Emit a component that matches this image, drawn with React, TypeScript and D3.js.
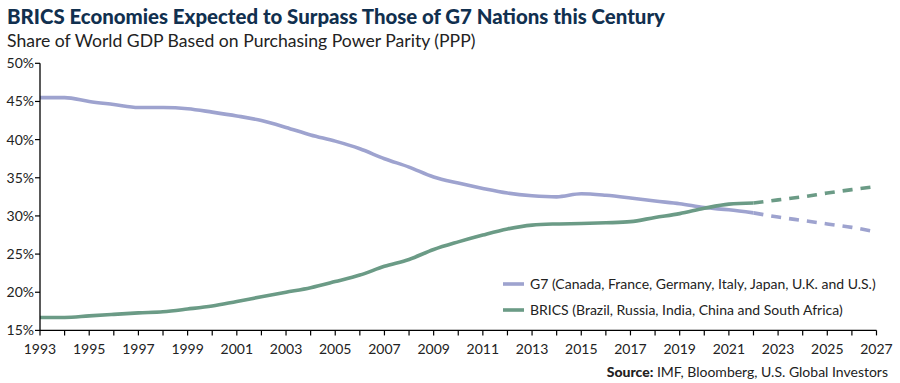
import React from "react";
import * as d3 from "d3";

const years = d3.range(1993, 2028);
const g7Actual = [45.5, 45.5, 45.0, 44.6, 44.2, 44.2, 44.05, 43.6, 43.1, 42.5, 41.6, 40.6, 39.8, 38.8, 37.5, 36.4, 35.1, 34.3, 33.6, 33.0, 32.65, 32.5, 32.9, 32.7, 32.35, 31.95, 31.6, 31.1, 30.8, 30.4];
const g7Forecast = [30.4, 29.85, 29.4, 28.95, 28.5, 27.9];
const bricsActual = [16.7, 16.7, 16.9, 17.1, 17.3, 17.45, 17.8, 18.2, 18.8, 19.4, 20.0, 20.6, 21.4, 22.25, 23.4, 24.3, 25.6, 26.6, 27.5, 28.3, 28.8, 28.95, 29.0, 29.1, 29.25, 29.8, 30.3, 31.0, 31.55, 31.7];
const bricsForecast = [31.7, 32.1, 32.5, 33.0, 33.45, 33.85];
const forecastYears = [2022, 2023, 2024, 2025, 2026, 2027];
const yTicks = [15, 20, 25, 30, 35, 40, 45, 50];
const xLabelYears = d3.range(1993, 2028, 2);
const legendLabels = [
  "G7 (Canada, France, Germany, Italy, Japan, U.K. and U.S.)",
  "BRICS (Brazil, Russia, India, China and South Africa)",
];

const G7_COLOR = "#9ea3cf";
const BRICS_COLOR = "#6b9b86";
const FONT = "Lato, 'Open Sans', sans-serif";

export default function App() {
  const W = 900, H = 383;
  const x = d3.scaleLinear().domain([1993, 2027]).range([40, 876.5]);
  const y = d3.scaleLinear().domain([15, 50]).range([330.4, 63.3]);
  const line = d3.line<[number, number]>().x(d => x(d[0])).y(d => y(d[1])).curve(d3.curveMonotoneX);
  const actualYears = years.slice(0, g7Actual.length);
  const g7A = line(actualYears.map((yr, i) => [yr, g7Actual[i]] as [number, number]))!;
  const brA = line(actualYears.map((yr, i) => [yr, bricsActual[i]] as [number, number]))!;
  const g7F = line(forecastYears.map((yr, i) => [yr, g7Forecast[i]] as [number, number]))!;
  const brF = line(forecastYears.map((yr, i) => [yr, bricsForecast[i]] as [number, number]))!;

  return (
    <svg width={W} height={H} style={{ position: "absolute", left: 0, top: 0, background: "#fff" }} fontFamily={FONT}>
      <text x={7} y={24} fontSize={20.4} fontWeight={900} fill="#11304f">BRICS Economies Expected to Surpass Those of G7 Nations this Century</text>
      <text x={7} y={47} fontSize={17.6} fill="#222">Share of World GDP Based on Purchasing Power Parity (PPP)</text>

      {/* lines */}
      <path d={g7A} fill="none" stroke={G7_COLOR} strokeWidth={3.6} />
      <path d={brA} fill="none" stroke={BRICS_COLOR} strokeWidth={3.6} />
      <path d={g7F} fill="none" stroke={G7_COLOR} strokeWidth={3.6} strokeDasharray="10 8" />
      <path d={brF} fill="none" stroke={BRICS_COLOR} strokeWidth={3.6} strokeDasharray="10 8" />

      {/* y axis */}
      <line x1={40} x2={40} y1={y(50)} y2={y(15)} stroke="#000" strokeWidth={1.3} />
      {yTicks.map(t => (
        <g key={t}>
          <line x1={35} x2={40} y1={y(t)} y2={y(t)} stroke="#000" strokeWidth={1.2} />
          <text x={34} y={y(t)} dy="0.35em" textAnchor="end" fontSize={14} fill="#222">{t}%</text>
        </g>
      ))}

      {/* x axis */}
      <line x1={40} x2={x(2027)} y1={y(15)} y2={y(15)} stroke="#000" strokeWidth={1.3} />
      {years.map(yr => (
        <line key={yr} x1={x(yr)} x2={x(yr)} y1={y(15)} y2={y(15) + 5} stroke="#000" strokeWidth={1.2} />
      ))}
      {xLabelYears.map(yr => (
        <text key={yr} x={x(yr)} y={354} textAnchor="middle" fontSize={14} fill="#222">{yr}</text>
      ))}

      {/* legend */}
      {legendLabels.map((lab, i) => (
        <g key={lab}>
          <line x1={503} x2={524} y1={284 + i * 26} y2={284 + i * 26} stroke={i === 0 ? G7_COLOR : BRICS_COLOR} strokeWidth={3.6} />
          <text x={530} y={284 + i * 26} dy="0.35em" fontSize={14} fill="#222">{lab}</text>
        </g>
      ))}

      {/* source */}
      <text x={888} y={377} textAnchor="end" fontSize={14} fill="#222">
        <tspan fontWeight={900}>Source:</tspan> IMF, Bloomberg, U.S. Global Investors
      </text>
    </svg>
  );
}
